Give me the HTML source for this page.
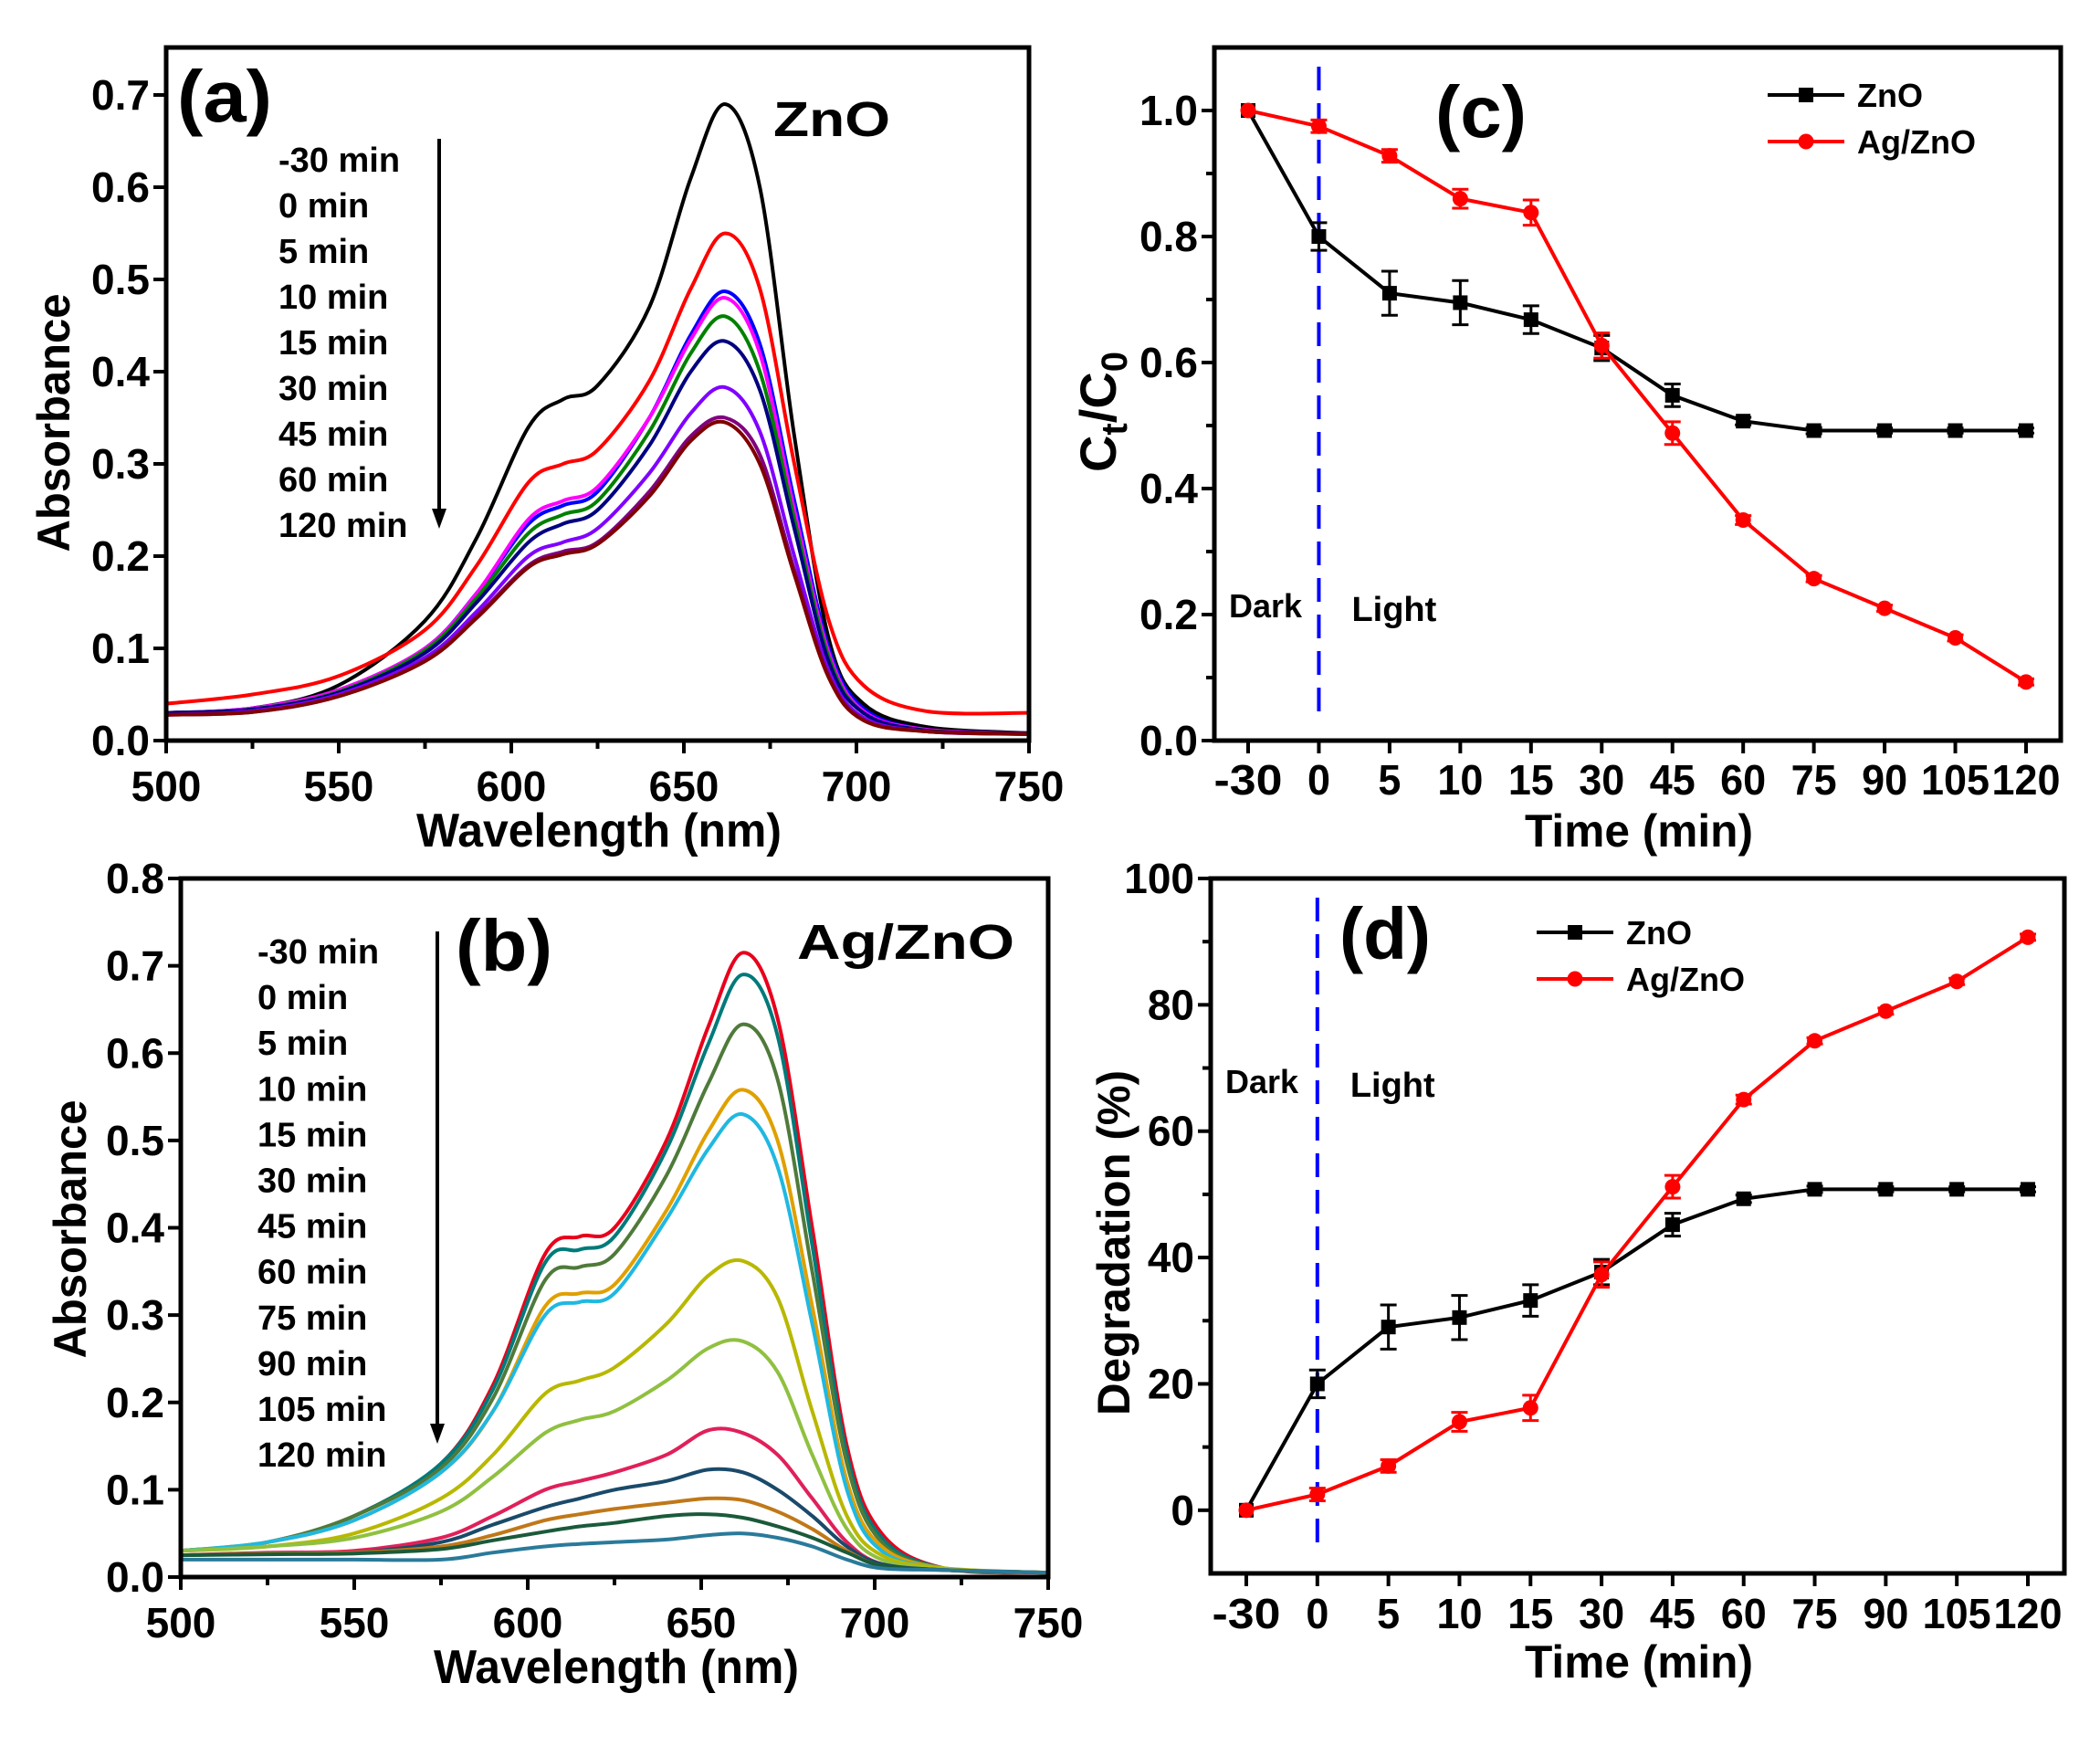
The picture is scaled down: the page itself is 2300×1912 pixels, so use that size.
<!DOCTYPE html>
<html><head><meta charset="utf-8"><style>
html,body{margin:0;padding:0;background:#fff;}
svg{display:block;font-family:"Liberation Sans",Arial,sans-serif;font-weight:bold;}
</style></head>
<body>
<svg id="fig" width="2300" height="1912" viewBox="0 0 2300 1912" xmlns="http://www.w3.org/2000/svg"></svg>
<script>
// ---------- data ----------
const wavelengths = [500,525,550,575,590,605,615,625,640,652,662,672,682,692,702,720,750];
const aLabels = ["-30 min","0 min","5 min","10 min","15 min","30 min","45 min","60 min","120 min"];
const aColors = ["#000000","#ff0000","#0000ff","#ff00ff","#008000","#000080","#8000ff","#800080","#800000"];
const aBlack = [0.03,0.035,0.06,0.13,0.22,0.34,0.37,0.385,0.47,0.61,0.69,0.60,0.33,0.11,0.04,0.015,0.008];
const aRed = [0.04,0.05,0.07,0.12,0.19,0.28,0.30,0.315,0.39,0.49,0.55,0.49,0.30,0.13,0.06,0.032,0.03];
const aBlue = [0.03,0.035,0.055,0.10,0.16,0.235,0.255,0.27,0.35,0.44,0.487,0.43,0.26,0.10,0.035,0.012,0.008];
const aMagenta = [0.03,0.035,0.055,0.10,0.16,0.24,0.26,0.275,0.35,0.435,0.48,0.42,0.25,0.095,0.032,0.012,0.008];
const aGreen = [0.03,0.034,0.053,0.098,0.155,0.225,0.245,0.26,0.335,0.42,0.46,0.40,0.24,0.09,0.03,0.011,0.008];
const aNavy = [0.03,0.034,0.052,0.095,0.15,0.215,0.235,0.25,0.32,0.40,0.433,0.38,0.23,0.085,0.03,0.011,0.008];
const aViolet = [0.028,0.032,0.05,0.09,0.14,0.20,0.215,0.23,0.29,0.355,0.383,0.335,0.2,0.075,0.025,0.01,0.007];
const aPurple = [0.028,0.031,0.048,0.087,0.135,0.19,0.205,0.215,0.27,0.33,0.35,0.31,0.185,0.07,0.023,0.01,0.007];
const aMaroon = [0.028,0.031,0.048,0.086,0.133,0.188,0.202,0.213,0.265,0.325,0.345,0.30,0.18,0.068,0.022,0.01,0.007];

const bLabels = ["-30 min","0 min","5 min","10 min","15 min","30 min","45 min","60 min","75 min","90 min","105 min","120 min"];
const bColors = ["#e8001c","#007a7a","#4f7a3a","#e0a000","#20b8e0","#b8b800","#90c040","#e0205a","#1a4a6a","#c07818","#1a5a3a","#2a7a9a"];
const b1 = [0.03,0.04,0.07,0.13,0.22,0.37,0.39,0.40,0.50,0.63,0.715,0.64,0.40,0.15,0.05,0.01,0.005];
const b2 = [0.03,0.04,0.07,0.13,0.215,0.36,0.375,0.39,0.49,0.61,0.69,0.62,0.38,0.14,0.045,0.01,0.005];
const b3 = [0.03,0.04,0.07,0.125,0.205,0.34,0.355,0.37,0.46,0.565,0.633,0.57,0.35,0.13,0.04,0.01,0.005];
const b4 = [0.03,0.04,0.065,0.12,0.19,0.31,0.325,0.335,0.42,0.51,0.558,0.50,0.31,0.11,0.035,0.01,0.005];
const b5 = [0.03,0.04,0.065,0.12,0.19,0.30,0.315,0.325,0.41,0.49,0.53,0.47,0.29,0.10,0.03,0.01,0.005];
const b6 = [0.03,0.035,0.05,0.09,0.14,0.21,0.225,0.24,0.29,0.345,0.362,0.32,0.19,0.07,0.025,0.01,0.005];
const b7 = [0.03,0.035,0.045,0.075,0.115,0.165,0.18,0.19,0.225,0.262,0.27,0.235,0.14,0.055,0.02,0.008,0.005];
const b8 = [0.025,0.028,0.03,0.045,0.07,0.10,0.11,0.12,0.14,0.168,0.165,0.14,0.09,0.04,0.015,0.008,0.005];
const b9 = [0.025,0.027,0.028,0.04,0.06,0.08,0.09,0.10,0.11,0.123,0.12,0.10,0.07,0.035,0.015,0.008,0.005];
const b10 = [0.025,0.027,0.028,0.035,0.048,0.065,0.072,0.078,0.085,0.09,0.088,0.075,0.055,0.03,0.013,0.008,0.005];
const b11 = [0.025,0.026,0.027,0.032,0.042,0.052,0.058,0.062,0.07,0.072,0.068,0.058,0.045,0.028,0.013,0.008,0.005];
const b12 = [0.02,0.02,0.02,0.02,0.028,0.035,0.038,0.04,0.043,0.048,0.05,0.045,0.035,0.02,0.01,0.008,0.005];

const timeCats = ["-30","0","5","10","15","30","45","60","75","90","105","120"];
const cZnO = [1.0,0.80,0.71,0.695,0.668,0.623,0.548,0.507,0.492,0.492,0.492,0.492];
const cZnOErr = [0,0.022,0.035,0.035,0.022,0.02,0.018,0.006,0.005,0.004,0.004,0.004];
const cAg = [1.0,0.975,0.928,0.86,0.838,0.627,0.488,0.35,0.257,0.21,0.163,0.093];
const cAgErr = [0,0.01,0.01,0.015,0.02,0.02,0.018,0.007,0.005,0.005,0.005,0.005];
const dZnO = [0,20,29,30.5,33.2,37.7,45.2,49.3,50.8,50.8,50.8,50.8];
const dZnOErr = [0,2.2,3.5,3.5,2.5,2,1.8,0.6,0.5,0.4,0.4,0.4];
const dAg = [0,2.5,7,14,16.2,37.3,51.2,65,74.3,79,83.7,90.7];
const dAgErr = [0,1,1,1.5,2,2,1.8,0.7,0.5,0.5,0.5,0.5];

const absTicks = ["0.0","0.1","0.2","0.3","0.4","0.5","0.6","0.7"];
const absTicksB = ["0.0","0.1","0.2","0.3","0.4","0.5","0.6","0.7","0.8"];
const wlTicks = ["500","550","600","650","700","750"];
const cTicks = ["0.0","0.2","0.4","0.6","0.8","1.0"];
const dTicks = ["0","20","40","60","80","100"];

// ---------- helpers ----------
const NS = "http://www.w3.org/2000/svg";
const svg = document.getElementById("fig");
function mk(tag, attrs, parent){
  const e = document.createElementNS(NS, tag);
  for (const k in attrs) e.setAttribute(k, attrs[k]);
  (parent||svg).appendChild(e);
  return e;
}
function txt(s, attrs, parent){ const t = mk("text", attrs, parent); t.textContent = s; return t; }
function smooth(pts){
  let d = "M"+pts[0][0].toFixed(1)+","+pts[0][1].toFixed(1);
  for (let i=0;i<pts.length-1;i++){
    const p0=pts[Math.max(0,i-1)], p1=pts[i], p2=pts[i+1], p3=pts[Math.min(pts.length-1,i+2)];
    const c1=[p1[0]+(p2[0]-p0[0])/6, p1[1]+(p2[1]-p0[1])/6];
    const c2=[p2[0]-(p3[0]-p1[0])/6, p2[1]-(p3[1]-p1[1])/6];
    d += " C"+c1[0].toFixed(1)+","+c1[1].toFixed(1)+" "+c2[0].toFixed(1)+","+c2[1].toFixed(1)+" "+p2[0].toFixed(1)+","+p2[1].toFixed(1);
  }
  return d;
}
function frame(g,L,T,R,B){
  const r = mk("rect",{x:L,y:T,width:R-L,height:B-T,fill:"none",stroke:"#000","stroke-width":5},g);
  
  
}

// ---------- spectrum panel ----------
function spectrum(cfg){
  const g = mk("g",{});
  
  
  const {L,T,R,B,ymax} = cfg;
  const xs = w => L + (w-500)/250*(R-L);
  const ys = v => B - v/ymax*(B-T);
  // curves (clipped)
  const cid = cfg.name+"-clip";
  const cp = mk("clipPath",{id:cid},g); mk("rect",{x:L,y:T,width:R-L,height:B-T},cp);
  const cg = mk("g",{"clip-path":"url(#"+cid+")"},g);
  cfg.series.forEach((s,i)=>{
    const pts = wavelengths.map((w,j)=>[xs(w), ys(s[j])]);
    const p = mk("path",{d:smooth(pts),fill:"none",stroke:cfg.colors[i],"stroke-width":4,"stroke-linejoin":"round"},cg);
    
    
  });
  frame(g,L,T,R,B);
  // x ticks
  for (let w=500; w<=750; w+=25){
    const major = (w%50===0);
    mk("line",{x1:xs(w),x2:xs(w),y1:B,y2:B+(major?14:9),stroke:"#000","stroke-width":4},g);
  }
  wlTicks.forEach(s=>{
    const t = txt(s,{x:xs(+s),y:cfg.xlabY,"text-anchor":"middle","font-size":46},g);
    
    
  });
  cfg.yTicks.forEach(s=>{
    const y = ys(+s);
    mk("line",{x1:L-14,x2:L,y1:y,y2:y,stroke:"#000","stroke-width":4},g);
    const t = txt(s,{x:L-18,y:y+16,"text-anchor":"end","font-size":46},g);
    
    
  });
  const xt = txt("Wavelength (nm)",{x:cfg.xtX,y:cfg.xtY,"text-anchor":"middle","font-size":52,textLength:400,lengthAdjust:"spacingAndGlyphs"},g);
  
  
  const yt = txt("Absorbance",{x:0,y:0,"text-anchor":"middle","font-size":50,textLength:283,lengthAdjust:"spacingAndGlyphs",transform:"translate("+cfg.ytX+","+cfg.ytY+") rotate(-90)"},g);
  
  
  // time legend
  cfg.labels.forEach((s,i)=>{
    const t = txt(s,{x:cfg.legX,y:cfg.legY0+i*cfg.legDy,"font-size":38},g);
    
    
  });
  const ar = mk("line",{x1:cfg.arX,x2:cfg.arX,y1:cfg.arY1,y2:cfg.arY2-16,stroke:"#000","stroke-width":4},g);
  
  
  mk("path",{d:"M"+(cfg.arX-8)+","+(cfg.arY2-22)+" L"+(cfg.arX+8)+","+(cfg.arY2-22)+" L"+cfg.arX+","+cfg.arY2+"Z",fill:"#000"},g);
  const pl = txt(cfg.panel,{x:cfg.plX,y:cfg.plY,"font-size":80,textLength:cfg.plW,lengthAdjust:"spacingAndGlyphs"},g);
  
  
  const ti = txt(cfg.title,{x:cfg.tiX,y:cfg.tiY,"font-size":54,textLength:cfg.tiW,lengthAdjust:"spacingAndGlyphs"},g);
  
  
}

spectrum({name:"panel-a",L:182,T:52,R:1127,B:811,ymax:0.7*(811-52)/(811-104),
  series:[aBlack,aRed,aBlue,aMagenta,aGreen,aNavy,aViolet,aPurple,aMaroon],colors:aColors,labels:aLabels,
  yTicks:absTicks,xlabY:877,xtX:656,xtY:927,ytX:76,ytY:463,
  legX:305,legY0:188,legDy:50,arX:481,arY1:152,arY2:579,
  panel:"(a)",plX:194,plY:133,plW:104,title:"ZnO",tiX:847,tiY:149,tiW:128});

spectrum({name:"panel-b",L:198,T:962,R:1148,B:1727,ymax:0.8,
  series:[b1,b2,b3,b4,b5,b6,b7,b8,b9,b10,b11,b12],colors:bColors,labels:bLabels,
  yTicks:absTicksB,xlabY:1793,xtX:675,xtY:1843,ytX:94,ytY:1346,
  legX:282,legY0:1055,legDy:50.1,arX:479,arY1:1020,arY2:1581,
  panel:"(b)",plX:499,plY:1063,plW:106,title:"Ag/ZnO",tiX:873,tiY:1050,tiW:238});

// ---------- time panels ----------
function timePanel(cfg){
  const g = mk("g",{});
  
  
  const {L,T,R,B,ymin,ymax,x0,dx} = cfg;
  const xs = i => x0 + i*dx;
  const ys = v => B - (v-ymin)/(ymax-ymin)*(B-T);
  frame(g,L,T,R,B);
  timeCats.forEach((s,i)=>{
    mk("line",{x1:xs(i),x2:xs(i),y1:B,y2:B+14,stroke:"#000","stroke-width":4},g);
    const t = txt(s,{x:xs(i),y:cfg.xlabY,"text-anchor":"middle","font-size":46,textLength:s.length*25,lengthAdjust:"spacingAndGlyphs"},g);
    
    
  });
  cfg.yTicks.forEach(s=>{
    const y = ys(+s);
    mk("line",{x1:L-14,x2:L,y1:y,y2:y,stroke:"#000","stroke-width":4},g);
    const t = txt(s,{x:L-18,y:y+16,"text-anchor":"end","font-size":46},g);
    
    
  });
  cfg.minor.forEach(v=>{ const y=ys(v); mk("line",{x1:L-9,x2:L,y1:y,y2:y,stroke:"#000","stroke-width":4},g); });
  // dashed divider
  const dl = mk("line",{x1:xs(1),x2:xs(1),y1:cfg.dashY1,y2:cfg.dashY2,stroke:"#0000ff","stroke-width":4,"stroke-dasharray":"26,14"},g);
  
  
  const dk = txt("Dark",{x:L+16,y:cfg.dlY,"font-size":36},g);
  
  
  const lt = txt("Light",{x:xs(1)+36,y:cfg.dlY+4,"font-size":38},g);
  
  
  const series = [[cfg.s1,cfg.e1,"#000","square","ZnO"],[cfg.s2,cfg.e2,"#ff0000","circle","Ag/ZnO"]];
  series.forEach(([vals,errs,col,shape,nm])=>{
    const pts = vals.map((v,i)=>xs(i).toFixed(1)+","+ys(v).toFixed(1)).join(" ");
    const pl = mk("polyline",{points:pts,fill:"none",stroke:col,"stroke-width":4},g);
    
    
    vals.forEach((v,i)=>{
      const x=xs(i), y=ys(v);
      if (errs[i]>0){
        const y1=ys(v+errs[i]), y2=ys(v-errs[i]);
        mk("path",{d:"M"+x+","+y1+"V"+y2+"M"+(x-9)+","+y1+"H"+(x+9)+"M"+(x-9)+","+y2+"H"+(x+9),stroke:col,"stroke-width":3,fill:"none"},g);
      }
      let m;
      if (shape==="square") m = mk("rect",{x:x-8,y:y-8,width:16,height:16,fill:col},g);
      else m = mk("circle",{cx:x,cy:y,r:8.5,fill:col},g);
      
      
    });
  });
  // legend
  [["ZnO","#000","square"],["Ag/ZnO","#ff0000","circle"]].forEach(([nm,col,shape],k)=>{
    const y = cfg.legY[k];
    const lg = mk("g",{},g);
    
    
    mk("line",{x1:cfg.legX,x2:cfg.legX+84,y1:y,y2:y,stroke:col,"stroke-width":4},lg);
    if (shape==="square") mk("rect",{x:cfg.legX+34,y:y-8,width:16,height:16,fill:col},lg);
    else mk("circle",{cx:cfg.legX+42,cy:y,r:8.5,fill:col},lg);
    txt(nm,{x:cfg.legX+98,y:y+13,"font-size":36},lg);
  });
  const pl = txt(cfg.panel,{x:cfg.plX,y:cfg.plY,"font-size":80,textLength:100,lengthAdjust:"spacingAndGlyphs"},g);
  
  
  const xt = txt("Time (min)",{x:cfg.xtX,y:cfg.xtY,"text-anchor":"middle","font-size":50,textLength:250,lengthAdjust:"spacingAndGlyphs"},g);
  
  
  return {g,ys};
}

const pc = timePanel({name:"panel-c",L:1330,T:52,R:2257,B:811,ymin:0,ymax:1.1,x0:1367,dx:(2219-1367)/11,
  yTicks:cTicks,minor:[0.1,0.3,0.5,0.7,0.9],xlabY:870,s1:cZnO,e1:cZnOErr,s2:cAg,e2:cAgErr,
  dashY1:73,dashY2:780,dlY:676,legX:1936,legY:[104,155],panel:"(c)",plX:1572,plY:150,xtX:1795,xtY:927});
// Ct/C0 title
const ctg = mk("g",{transform:"translate(1222,451) rotate(-90)"});


const ctt = txt("",{x:0,y:0,"text-anchor":"middle","font-size":56},ctg);
ctt.innerHTML = 'C<tspan font-size="40" dy="12">t</tspan><tspan dy="-12">/C</tspan><tspan font-size="40" dy="12">0</tspan>';

const pd = timePanel({name:"panel-d",L:1326,T:962,R:2261,B:1723,ymin:-10,ymax:100,x0:1365,dx:(2221-1365)/11,
  yTicks:dTicks,minor:[10,30,50,70,90],xlabY:1783,s1:dZnO,e1:dZnOErr,s2:dAg,e2:dAgErr,
  dashY1:983,dashY2:1694,dlY:1197,legX:1683,legY:[1021,1072],panel:"(d)",plX:1467,plY:1050,xtX:1795,xtY:1837});
const dt = txt("Degradation (%)",{x:0,y:0,"text-anchor":"middle","font-size":50,textLength:378,lengthAdjust:"spacingAndGlyphs",transform:"translate(1237,1361) rotate(-90)"});


</script>
</body></html>
